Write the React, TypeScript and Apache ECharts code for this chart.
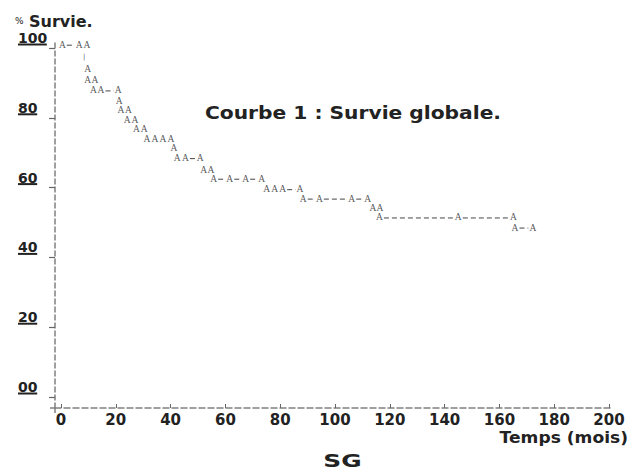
import React, { useEffect, useRef } from "react";
import * as echarts from "echarts";

// Survival level (%) of each printed row, top to bottom
const rowSurvival = [100, 96.4, 93.1, 90.0, 86.9, 84.0, 81.3, 78.4, 75.8, 72.9, 70.3, 67.5, 64.0, 61.6, 58.6, 55.9, 53.2, 50.5, 47.6];
// Character printed on each row
const rowMarks = ["A", "|", "A", "A", "A", "A", "A", "A", "A", "A", "A", "A", "A", "A", "A", "A", "A", "A", "A"];
// Times (months) of the marks on each row
const rowTimes = [
  [0.5, 6.6, 9.5],
  [8.5],
  [9.7],
  [9.7, 12.4],
  [11.8, 14.6, 20.9],
  [21.2],
  [21.9, 24.6],
  [24.2, 27.0],
  [27.5, 30.4],
  [31.4, 34.3, 37.2, 40.1],
  [41.2],
  [42.4, 45.4, 50.8],
  [52.1, 54.7],
  [55.7, 61.6, 67.4, 73.2],
  [75.1, 78.0, 80.9, 87.2],
  [88.4, 94.3, 106.1, 111.9],
  [113.8, 116.4],
  [116.2, 145.0, 165.1],
  [165.7, 172.2],
];
const xTicks = [0, 20, 40, 60, 80, 100, 120, 140, 160, 180, 200];
const yTicks = [0, 20, 40, 60, 80, 100];
const yTickLabel = (v: number) => (v === 0 ? "00" : String(v));

const BOLD = "DejaVu Sans";

export default function App() {
  const ref = useRef<HTMLDivElement>(null);
  useEffect(() => {
    const chart = echarts.init(ref.current!, null, { renderer: "svg" });

    const marks: any[] = [];
    const dashes: any[] = [];
    rowTimes.forEach((times, r) => {
      times.forEach((t, i) => {
        const ch = rowMarks[r];
        marks.push({
          value: [t, rowSurvival[r]],
          name: ch,
          label: ch === "|" ? { fontSize: 7, fontFamily: "DejaVu Sans", color: "#333" } : undefined,
        });
        if (i > 0 && t - times[i - 1] > 4) dashes.push([times[i - 1], t, rowSurvival[r]]);
      });
    });

    const option: any = {
      animation: false,
      backgroundColor: "#ffffff",
      grid: { left: 55, right: 28, top: 40, bottom: 62 },
      xAxis: {
        type: "value",
        min: -2.19,
        max: 201.09,
        splitLine: { show: false },
        axisLine: { show: true, onZero: false, lineStyle: { color: "#808080", width: 1.5, type: [6, 3] } },
        axisTick: { show: true, customValues: xTicks, inside: true, length: 4, lineStyle: { color: "#666", width: 1 } },
        axisLabel: {
          customValues: xTicks,
          margin: 4,
          lineHeight: 15,
          fontFamily: BOLD,
          fontWeight: "bold",
          fontSize: 15,
          color: "#222",
        },
      },
      yAxis: {
        type: "value",
        min: -3.15,
        max: 102.29,
        splitLine: { show: false },
        axisLine: { show: true, onZero: false, lineStyle: { color: "#808080", width: 1.5, type: [5, 3] } },
        axisTick: { show: true, customValues: yTicks, length: 6, lineStyle: { color: "#666", width: 1.2 } },
        axisLabel: {
          customValues: yTicks,
          formatter: (v: number) => yTickLabel(v),
          align: "left",
          margin: 37,
          verticalAlign: "bottom",
          lineHeight: 20,
          fontFamily: BOLD,
          fontWeight: "bold",
          fontSize: 14,
          color: "#222",
        },
      },
      series: [
        {
          type: "custom",
          encode: { x: [0, 1], y: 2 },
          data: dashes,
          renderItem: (params: any, api: any) => {
            const p1 = api.coord([api.value(0), api.value(2)]);
            const p2 = api.coord([api.value(1), api.value(2)]);
            return {
              type: "line",
              shape: { x1: p1[0] + 4.5, y1: p1[1] - 2.8, x2: p2[0] - 4.5, y2: p2[1] - 2.8 },
              style: { stroke: "#444", lineWidth: 1, lineDash: [5, 3] },
              silent: true,
            };
          },
          z: 1,
        },
        {
          type: "scatter",
          symbol: "circle",
          symbolSize: 1,
          itemStyle: { color: "rgba(255,255,255,0)" },
          data: marks,
          label: {
            show: true,
            position: "inside",
            offset: [0, -3.3],
            formatter: "{b}",
            fontFamily: "Liberation Serif",
            fontSize: 9.5,
            color: "#2a2a2a",
          },
          z: 3,
        },
      ],
    };
    chart.setOption(option);

    const underlines = yTicks.map((v) => {
      const py = chart.convertToPixel({ yAxisIndex: 0 }, v) as number;
      return {
        type: "rect",
        silent: true,
        shape: { x: 18, y: py - 4.5, width: yTickLabel(v).length * 9.6, height: 2 },
        style: { fill: "#222" },
      };
    });
    const origin = chart.convertToPixel({ xAxisIndex: 0, yAxisIndex: 0 }, [-2.19, -3.15]) as number[];

    chart.setOption({
      graphic: [
        {
          type: "line",
          silent: true,
          shape: { x1: origin[0], y1: origin[1], x2: origin[0], y2: origin[1] + 8 },
          style: { stroke: "#808080", lineWidth: 1.5, lineDash: [5, 3] },
        },
        {
          type: "line",
          silent: true,
          shape: { x1: origin[0] - 5, y1: origin[1], x2: origin[0], y2: origin[1] },
          style: { stroke: "#808080", lineWidth: 1.5 },
        },
        {
          type: "text",
          x: 15,
          y: 21,
          style: { text: "%", font: "9px DejaVu Sans", fill: "#222", textVerticalAlign: "middle" },
        },
        {
          type: "text",
          x: 29,
          y: 21,
          style: { text: "Survie.", font: "bold 16px DejaVu Sans", fill: "#222", textVerticalAlign: "middle" },
        },
        {
          type: "text",
          x: 205,
          y: 113.5,
          scaleX: 1.19,
          style: {
            text: "Courbe 1 : Survie globale.",
            font: "bold 17px DejaVu Sans",
            fill: "#222",
            textVerticalAlign: "middle",
          },
        },
        {
          type: "text",
          x: 628,
          y: 437.5,
          scaleX: 1.07,
          style: {
            text: "Temps (mois)",
            font: "bold 16px DejaVu Sans",
            fill: "#222",
            textAlign: "right",
            textVerticalAlign: "middle",
          },
        },
        {
          type: "text",
          x: 342.5,
          y: 461,
          scaleX: 1.38,
          style: {
            text: "SG",
            font: "bold 18px DejaVu Sans",
            fill: "#222",
            textAlign: "center",
            textVerticalAlign: "middle",
          },
        },
        ...underlines,
      ],
    });

    return () => chart.dispose();
  }, []);
  return <div ref={ref} style={{ position: "fixed", left: 0, top: 0, width: 640, height: 470 }} />;
}
